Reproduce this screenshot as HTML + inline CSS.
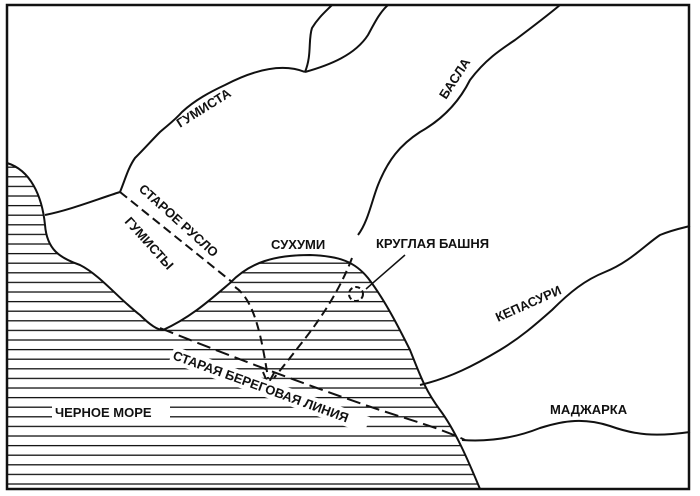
<!DOCTYPE html>
<html><head><meta charset="utf-8"><style>
html,body{margin:0;padding:0;background:#fff;}
svg{display:block}
text{font-family:"Liberation Sans",sans-serif;font-weight:bold;font-size:13px;fill:#111}
</style></head><body>
<svg width="700" height="496" viewBox="0 0 700 496">
<defs>
<pattern id="h" width="10" height="9.6" patternUnits="userSpaceOnUse">
<line x1="0" y1="4" x2="10" y2="4" stroke="#111" stroke-width="1.3"/>
</pattern>
</defs>
<rect width="700" height="496" fill="#fff"/>
<path d="M7,163 C30,170 42,195 45,225 C47,250 60,258 80,265 C100,275 120,300 140,315 C150,325 158,330 163,330 C190,318 210,300 230,283 C250,262 275,255 310,255 C340,256 355,262 368,278 C385,300 400,330 410,350 C420,375 425,390 440,410 C455,430 468,460 480,489 L7,489 Z" fill="url(#h)" stroke="none"/>
<path d="M7,163 C30,170 42,195 45,225 C47,250 60,258 80,265 C100,275 120,300 140,315 C150,325 158,330 163,330 C190,318 210,300 230,283 C250,262 275,255 310,255 C340,256 355,262 368,278 C385,300 400,330 410,350 C420,375 425,390 440,410 C455,430 468,460 480,489" fill="none" stroke="#111" stroke-width="2"/>
<g fill="none" stroke="#111" stroke-width="2">
<path d="M45,215 C70,210 95,200 120,192 C125,180 128,168 135,158 C145,148 152,140 160,132 C168,125 175,120 182,112 C195,100 210,92 225,85 C250,72 280,62 305,72"/>
<path d="M305,72 C312,55 308,40 312,28 C318,18 325,12 332,5"/>
<path d="M305,72 C330,65 355,55 368,35 C375,22 380,12 388,5"/>
<path d="M358,235 C368,222 372,200 378,185 C388,160 400,145 420,132 C445,118 460,100 470,80 C485,60 500,50 515,40 C535,25 548,15 560,5"/>
<path d="M420,385 C450,378 475,365 500,350 C520,338 535,325 552,310 C570,292 585,280 605,272 C630,262 645,245 660,235 C672,230 682,228 690,226"/>
<path d="M462,440 C490,442 515,438 540,428 C565,420 585,418 610,426 C635,435 655,437 690,432"/>
</g>
<g fill="none" stroke="#111" stroke-width="2" stroke-dasharray="9,5">
<path d="M120,192 L232,282"/>
<path d="M160,328 C240,360 320,390 380,410 C410,420 440,428 465,440" stroke-dasharray="14,6"/>
<path d="M235,287 C255,300 262,340 268,378"/>
<path d="M352,258 C340,290 320,320 300,345 C290,358 282,368 274,378"/>
<circle cx="356" cy="294" r="7" stroke-dasharray="5,3"/>
</g>
<path d="M263,372 L268,384 L274,373" fill="none" stroke="#111" stroke-width="2"/>
<line x1="405" y1="255" x2="366" y2="289" stroke="#111" stroke-width="1.5"/>
<rect x="7" y="5" width="682" height="484" fill="none" stroke="#111" stroke-width="2.5"/>
<text transform="translate(180,128) rotate(-32)" font-size="13">ГУМИСТА</text>
<text transform="translate(446,100) rotate(-57)" font-size="13">БАСЛА</text>
<text transform="translate(498,322) rotate(-24)">КЕПАСУРИ</text>
<text x="550" y="414">МАДЖАРКА</text>
<text x="271" y="249">СУХУМИ</text>
<text x="376" y="248" font-size="12">КРУГЛАЯ БАШНЯ</text>
<text transform="translate(138,190) rotate(42)" font-size="12.5">СТАРОЕ РУСЛО</text>
<text transform="translate(124,222) rotate(48)" font-size="12.5">ГУМИСТЫ</text>
<g>
<rect x="52" y="401" width="118" height="20" fill="#fff"/>
<text x="55" y="417">ЧЕРНОЕ МОРЕ</text>
</g>
<g transform="translate(172,359) rotate(20)">
<rect x="-2" y="-13" width="208" height="17" fill="#fff"/>
<text x="0" y="0" font-size="12.5">СТАРАЯ БЕРЕГОВАЯ ЛИНИЯ</text>
</g>
</svg>
</body></html>
